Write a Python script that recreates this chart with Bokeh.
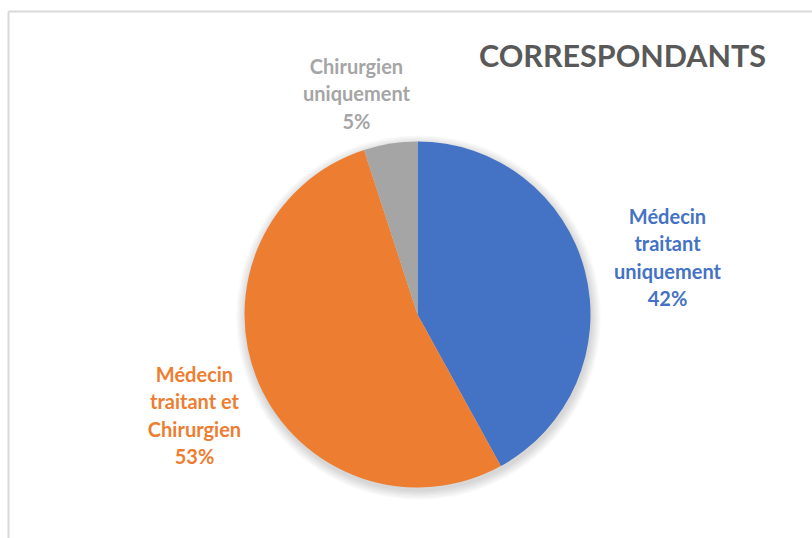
import numpy as np
from bokeh.plotting import figure
from bokeh.models import Range1d
from bokeh.core.properties import value
from bokeh.embed import file_html
from bokeh.resources import INLINE

# ---- data ----
categories = ["Médecin traitant uniquement", "Médecin traitant et Chirurgien", "Chirurgien uniquement"]
shares = [42, 53, 5]
colors = ["#4472C4", "#ED7D31", "#A5A5A5"]
label_lines = [["Médecin", "traitant", "uniquement", "42%"],
               ["Médecin", "traitant et", "Chirurgien", "53%"],
               ["Chirurgien", "uniquement", "5%"]]
title = "CORRESPONDANTS"

W, H = 812, 538
p = figure(width=W, height=H, output_backend="svg", toolbar_location=None,
           x_range=Range1d(0, W), y_range=Range1d(0, H), min_border=0)
p.axis.visible = False
p.grid.visible = False
p.outline_line_color = None
p.background_fill_color = "white"
p.border_fill_color = "white"

def Y(y):
    return H - y

# frame (decoration)
p.segment(x0=[8, 8], y0=[Y(11), Y(11)], x1=[W + 5, 8], y1=[Y(11), -5],
          line_color="#d9d9d9", line_width=2)

cx, cy, r = 417, Y(314), 173

# soft shadow
for k in range(8):
    p.circle(x=[cx + 1], y=[cy - 3], radius=r + 1 + k * 1.2,
             fill_color="black", fill_alpha=0.018, line_color=None)

frac = np.array(shares, dtype=float) / sum(shares)
cum = np.concatenate([[0], np.cumsum(frac)])
start = np.pi / 2 - 2 * np.pi * cum[:-1]
end = np.pi / 2 - 2 * np.pi * cum[1:]
p.wedge(x=[cx] * 3, y=[cy] * 3, radius=r, start_angle=start, end_angle=end,
        direction="clock", fill_color=colors, line_color=None)

# labels
label_pos = [(667, 215), (194, 373), (356, 65)]
step = 27.5
for lines, col, (lx, ly) in zip(label_lines, colors, label_pos):
    ys = [Y(ly + i * step) for i in range(len(lines))]
    p.text(x=[lx] * len(lines), y=ys, text=lines, text_color=col,
           text_font=value("Lato"), text_font_style="bold", text_font_size="20px",
           text_align="center", text_baseline="middle")

p.text(x=[622], y=[Y(54)], text=[title], text_color="#595959",
       text_font=value("Lato"), text_font_style="bold", text_font_size="30.5px",
       text_align="center", text_baseline="middle")

open("out.html", "w").write(file_html(p, INLINE))
